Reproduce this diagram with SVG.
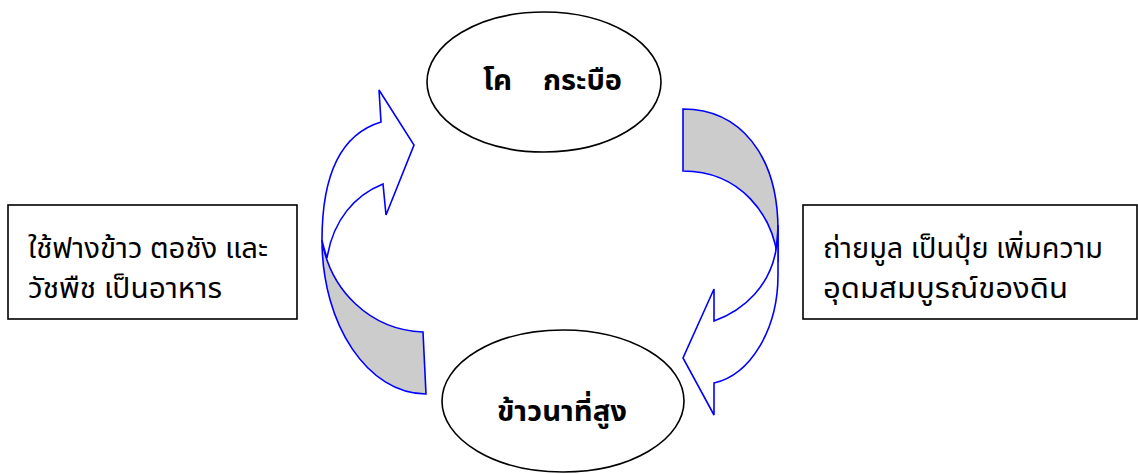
<svg xmlns="http://www.w3.org/2000/svg" width="1138" height="474" viewBox="0 0 1138 474">
  <style>
    .node-shape { fill: #ffffff; stroke: #000000; stroke-width: 1.6; }
    .label { font-family: "Noto Sans Thai", "Noto Sans", "DejaVu Sans", sans-serif; fill: #000000; }
    .title { font-size: 29px; font-weight: bold; }
    .note { font-size: 29px; }
    .arrow-back { fill: #cccccc; stroke: #0000ff; stroke-width: 1.6; stroke-linejoin: miter; }
    .arrow-front { fill: #ffffff; stroke: #0000ff; stroke-width: 1.6; stroke-linejoin: miter; }
  </style>

  <rect width="1138" height="474" fill="#ffffff"/>

  <!-- curved cycle arrows -->
  <g id="connectors">
    <g id="arrow-left">
      <path class="arrow-back" d="M322,240 C322,325 368,394 426,394 L423,332 C370,330 330,290 322,240 Z"/>
      <path class="arrow-front" d="M322,240 C322,180 338,135 381,122 L379,90 L414,145 L386,215 L383,184 C355,195 333,220 327,258 C325,252 323,246 322,240 Z"/>
    </g>
    <g id="arrow-right">
      <path class="arrow-back" d="M683,109 C740,109 778,155 778,230 L778,262 C774,215 740,171 683,171 Z"/>
      <path class="arrow-front" d="M778,225 L778,275 C778,330 750,375 714,383 L714,415 L683,358 L714,289 L714,321 C745,310 770,285 776,250 C777,240 778,232 778,225 Z"/>
    </g>
  </g>

  <g id="node-cattle">
    <ellipse class="node-shape" cx="544" cy="82" rx="117" ry="70"/>
    <text class="label title" x="483" y="90" textLength="29" lengthAdjust="spacingAndGlyphs">โค</text>
    <text class="label title" x="543" y="90" textLength="79" lengthAdjust="spacingAndGlyphs">กระบือ</text>
  </g>

  <g id="node-rice">
    <ellipse class="node-shape" cx="563" cy="401" rx="121" ry="71"/>
    <text class="label title" x="497" y="421" textLength="130" lengthAdjust="spacingAndGlyphs">ข้าวนาที่สูง</text>
  </g>

  <g id="note-feed">
    <rect class="node-shape" x="8" y="205" width="289" height="114"/>
    <text class="label note" x="28" y="258" textLength="240" lengthAdjust="spacingAndGlyphs">ใช้ฟางข้าว ตอชัง และ</text>
    <text class="label note" x="28" y="298" textLength="194" lengthAdjust="spacingAndGlyphs">วัชพืช เป็นอาหาร</text>
  </g>

  <g id="note-manure">
    <rect class="node-shape" x="803" y="205" width="334" height="114"/>
    <text class="label note" x="823" y="258" textLength="280" lengthAdjust="spacingAndGlyphs">ถ่ายมูล เป็นปุ๋ย เพิ่มความ</text>
    <text class="label note" x="823" y="298" textLength="245" lengthAdjust="spacingAndGlyphs">อุดมสมบูรณ์ของดิน</text>
  </g>
</svg>
